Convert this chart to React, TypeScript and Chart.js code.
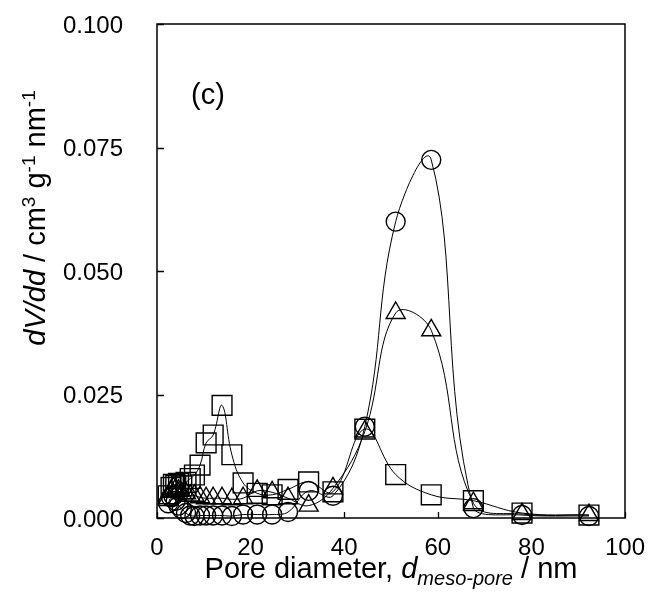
import React, { useEffect, useRef } from "react";
import { Chart, registerables } from "chart.js";

Chart.register(...registerables);

// Pore diameters (nm), shared by the three samples
const poreDiameters = [2.4, 3.0, 3.5, 4.0, 4.6, 5.3, 6.2, 7.1, 8.0, 9.2, 10.5, 12.0, 13.9, 16.0, 18.4, 21.4, 24.6, 28.0, 32.4, 37.6, 44.4, 51.0, 58.6, 67.6, 78.0, 92.3];

// dV/dd values (cm3 g-1 nm-1)
const circleValues = [0.0030, 0.0042, 0.0045, 0.0035, 0.0025, 0.0018, 0.0010, 0.0005, 0.0004, 0.0005, 0.0005, 0.0005, 0.0005, 0.0004, 0.0007, 0.0007, 0.0007, 0.0012, 0.0055, 0.0045, 0.0185, 0.0600, 0.0725, 0.0020, 0.0006, 0.0004];
const triangleValues = [0.0040, 0.0055, 0.0060, 0.0058, 0.0055, 0.0050, 0.0050, 0.0045, 0.0045, 0.0042, 0.0040, 0.0040, 0.0040, 0.0038, 0.0040, 0.0055, 0.0052, 0.0040, 0.0025, 0.0060, 0.0175, 0.0415, 0.0380, 0.0030, 0.0008, 0.0006];
const squareValues = [0.0045, 0.0062, 0.0068, 0.0066, 0.0070, 0.0065, 0.0072, 0.0080, 0.0087, 0.0107, 0.0152, 0.0168, 0.0228, 0.0128, 0.0071, 0.0050, 0.0047, 0.0058, 0.0073, 0.0053, 0.0180, 0.0088, 0.0047, 0.0035, 0.0010, 0.0006];

const xTickValues = [0, 20, 40, 60, 80, 100];
const yTickValues = [0, 0.025, 0.05, 0.075, 0.1];
const xTickLabels = ["0", "20", "40", "60", "80", "100"];
const yTickLabels = ["0.000", "0.025", "0.050", "0.075", "0.100"];

const FONT = "'Liberation Sans', Arial, sans-serif";
const TICK_SIZE = 24;
const TITLE_SIZE = 29;

type Part = { text: string; italic?: boolean; scale?: number; dy?: number };

function drawRich(ctx: CanvasRenderingContext2D, parts: Part[], cx: number, baseY: number, size: number) {
  const fontOf = (p: Part) => `${p.italic ? "italic " : ""}${Math.round(size * (p.scale || 1))}px ${FONT}`;
  let total = 0;
  for (const p of parts) {
    ctx.font = fontOf(p);
    total += ctx.measureText(p.text).width;
  }
  let x = cx - total / 2;
  ctx.textAlign = "left";
  ctx.textBaseline = "alphabetic";
  for (const p of parts) {
    ctx.font = fontOf(p);
    ctx.fillText(p.text, x, baseY + (p.dy || 0));
    x += ctx.measureText(p.text).width;
  }
}

const overlay = {
  id: "overlay",
  afterDraw(chart: any) {
    const { ctx, chartArea: a, scales } = chart;
    const xs = scales.x;
    const ys = scales.y;
    ctx.save();
    ctx.strokeStyle = "#000";
    ctx.fillStyle = "#000";
    ctx.lineWidth = 1.5;
    ctx.strokeRect(a.left, a.top, a.right - a.left, a.bottom - a.top);
    ctx.lineWidth = 1.3;
    ctx.beginPath();
    for (const v of yTickValues) {
      const py = Math.round(ys.getPixelForValue(v)) + 0.5;
      ctx.moveTo(a.left, py);
      ctx.lineTo(a.left + 7, py);
    }
    for (const v of xTickValues) {
      const px = Math.round(xs.getPixelForValue(v)) + 0.5;
      ctx.moveTo(px, a.bottom);
      ctx.lineTo(px, a.bottom - 6);
    }
    ctx.stroke();

    // tick labels
    ctx.font = `${TICK_SIZE}px ${FONT}`;
    ctx.textBaseline = "alphabetic";
    ctx.textAlign = "right";
    yTickValues.forEach((v, i) => {
      ctx.fillText(yTickLabels[i], 123, ys.getPixelForValue(v) + 8.5);
    });
    ctx.textAlign = "center";
    xTickValues.forEach((v, i) => {
      ctx.fillText(xTickLabels[i], xs.getPixelForValue(v), 555);
    });

    // panel label
    ctx.font = `${TITLE_SIZE}px ${FONT}`;
    ctx.textAlign = "left";
    ctx.fillText("(c)", 191, 104);

    // x title
    drawRich(
      ctx,
      [
        { text: "Pore diameter, " },
        { text: "d", italic: true },
        { text: "meso-pore", italic: true, scale: 0.7, dy: 7 },
        { text: " / nm" },
      ],
      (a.left + a.right) / 2,
      578,
      TITLE_SIZE
    );

    // y title
    ctx.save();
    ctx.translate(45, 218);
    ctx.rotate(-Math.PI / 2);
    drawRich(
      ctx,
      [
        { text: "dV/dd", italic: true },
        { text: " / cm" },
        { text: "3", scale: 0.65, dy: -10 },
        { text: " g" },
        { text: "-1", scale: 0.65, dy: -10 },
        { text: " nm" },
        { text: "-1", scale: 0.65, dy: -10 },
      ],
      0,
      0,
      TITLE_SIZE
    );
    ctx.restore();
    ctx.restore();
  },
};

function makeData(values: number[]) {
  return poreDiameters.map((x, i) => ({ x, y: values[i] }));
}

export default function App() {
  const ref = useRef<HTMLCanvasElement | null>(null);
  useEffect(() => {
    if (!ref.current) return;
    const common = {
      showLine: true,
      borderColor: "#000",
      borderWidth: 1,
      tension: 0.4,
      pointBackgroundColor: "rgba(0,0,0,0)",
      pointBorderColor: "#000",
      pointBorderWidth: 1.4,
      clip: false as const,
    };
    const chart = new Chart(ref.current, {
      type: "scatter",
      data: {
        datasets: [
          { ...common, label: "circle", data: makeData(circleValues), pointStyle: "circle", pointRadius: 9.5 },
          { ...common, label: "triangle", data: makeData(triangleValues), pointStyle: "triangle", pointRadius: 11 },
          { ...common, label: "square", data: makeData(squareValues), pointStyle: "rect", pointRadius: 14 },
        ],
      },
      options: {
        animation: false,
        responsive: false,
        layout: { padding: { left: 0, top: 24, right: 26, bottom: 0 } },
        plugins: { legend: { display: false }, tooltip: { enabled: false } },
        scales: {
          x: {
            type: "linear",
            min: 0,
            max: 100,
            grid: { display: false },
            border: { display: false },
            afterFit: (s: any) => {
              s.height = 86;
            },
            ticks: { display: false, stepSize: 20 },
          },
          y: {
            type: "linear",
            min: 0,
            max: 0.1,
            grid: { display: false },
            border: { display: false },
            afterFit: (s: any) => {
              s.width = 157;
            },
            ticks: { display: false, stepSize: 0.025 },
          },
        },
      },
      plugins: [overlay],
    });
    return () => chart.destroy();
  }, []);
  return (
    <div style={{ position: "absolute", left: 0, top: 0, width: 651, height: 604, background: "#fff" }}>
      <canvas ref={ref} width={651} height={604} />
    </div>
  );
}
